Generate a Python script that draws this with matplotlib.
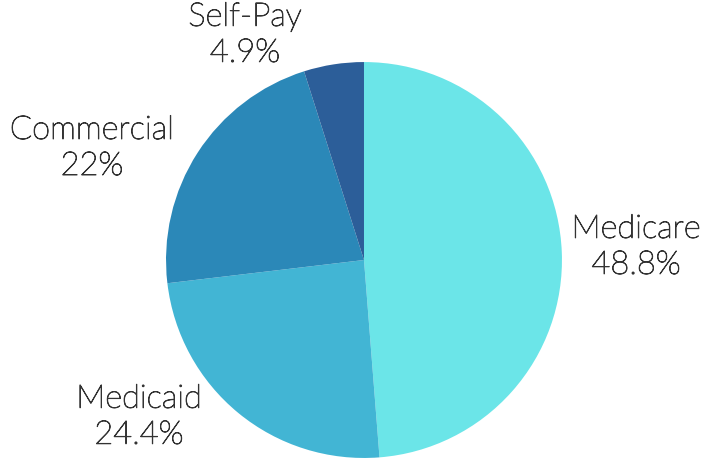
import matplotlib

matplotlib.use("Agg")
import matplotlib.pyplot as plt
import matplotlib.patheffects as pe

categories = ["Medicare", "Medicaid", "Commercial", "Self-Pay"]
shares = [48.8, 24.4, 22.0, 4.9]
share_labels = ["48.8%", "24.4%", "22%", "4.9%"]

COLORS = ["#6be5e8", "#42b5d4", "#2b88b8", "#2c5e99"]
TEXT = "#333333"
# label block centres in figure fraction
LABEL_POS = [(0.906, 0.461), (0.198, 0.090), (0.131, 0.677), (0.349, 0.924)]

fig = plt.figure(figsize=(7.02, 4.58), dpi=100, facecolor="white")
ax = fig.add_axes([0.2365, 0.0, 0.564, 0.8646])
ax.pie(shares, colors=COLORS, startangle=90, counterclock=False,
       wedgeprops=dict(linewidth=0), radius=1.0)
ax.set_xlim(-1, 1)
ax.set_ylim(-1, 1)
ax.set_aspect("equal")
ax.axis("off")

for name, lab, (x, y) in zip(categories, share_labels, LABEL_POS):
    fig.text(x, y, f"{name}\n{lab}", ha="center", va="center", multialignment="center",
             fontsize=23.5, color=TEXT, family="Lato", fontweight="light", linespacing=1.25,
             path_effects=[pe.withStroke(linewidth=0.7, foreground=TEXT)])

fig.savefig("out.png", dpi=100, facecolor="white")
